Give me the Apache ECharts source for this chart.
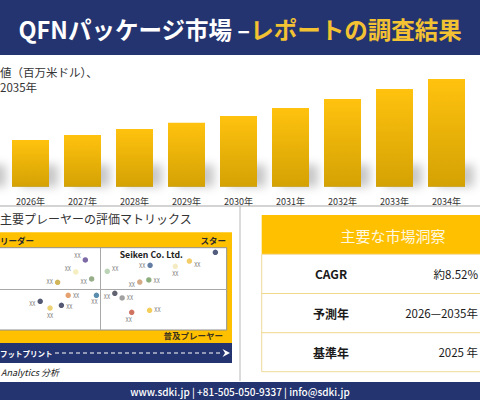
<!DOCTYPE html>
<html><head><meta charset="utf-8">
<script src="https://cdn.jsdelivr.net/npm/echarts@6/dist/echarts.min.js"></script>
<style>html,body{margin:0;padding:0;background:#fff;overflow:hidden}#c{width:480px;height:400px}</style>
</head><body><div id="c"></div>
<script>
// ---- data ----
const years = ['2025年','2026年','2027年','2028年','2029年','2030年','2031年','2032年','2033年','2034年','2035年'];
const marketValues = [42, 46.7, 51.7, 57.7, 64, 70.7, 78.7, 87.7, 97.7, 107.7, 120.7];

const playerNames = ['XX','XX','XX','XX','XX','XX','XX','XX','XX','','XX','XX','XX','XX','XX','XX','XX','XX','XX','XX'];
const playerX = [43.9, 40.1, 32.9, 46.4, 37.1, 48.3, 26.0, 29.9, 34.4, 95.5, 85.2, 79.6, 69.6, 52.6, 65.5, 69.1, 55.6, 58.5, 62.3, 69.4];
const playerY = [85.1, 70.5, 58.0, 62.0, 42.2, 42.2, 34.9, 26.7, 30.0, 94.4, 83.8, 77.4, 78.6, 71.3, 58.3, 60.8, 44.6, 38.9, 21.5, 23.9];

const insightLabels = ['CAGR', '予測年', '基準年'];
const insightValues = ['約8.52%', '2026—2035年', '2025 年'];

// ---- styling (not data) ----
const playerColors = ['#5b4390','#f3eab0','#c4a232','#7d9a6c','#e08a4c','#2f6f98','#28304f','#e9c851','#2c3050',
  '#27345c','#f0c142','#f2e6b4','#3c5b8c','#a9c9a2','#c99468','#6f9a5c','#3b3c4c','#8a8a8a','#c4513b','#f0c232'];
const labelSide = ['left','left','left','left','right','bottom','left','bottom','right','none',
  'right','bottom','left','right','left','right','left','right','bottom','right'];
const labelShift = [[0,-4],[0,-3],[0,0],[0,3],[0,1],[-2,-1],[0,3],[0,0],[0,2],[0,0],
  [0,4],[0,0],[0,1],[0,-2],[0,3],[0,1],[0,4],[0,0],[-3,0],[0,0]];

const NAVY = '#243470', GOLD = '#FFC000', FF = '"Noto Sans CJK JP", "Noto Sans", sans-serif';

function txt(text, x, y, size, color, opt) {
  opt = opt || {};
  const align = opt.align || 'left';
  return { type: 'text', z: opt.z || 5, style: {
    text, x, y, fill: color,
    fontSize: size, fontWeight: opt.weight || 'normal', fontStyle: opt.style || 'normal', fontFamily: FF,
    align, textAlign: align, verticalAlign: 'middle', textVerticalAlign: 'middle'
  }};
}
function rect(x, y, w, h, fill, stroke, z) {
  return { type: 'rect', z: z || 0, shape: { x, y, width: w, height: h },
    style: { fill, stroke: stroke || null, lineWidth: stroke ? 1 : 0 } };
}
function line(x1, y1, x2, y2, color, dash, w) {
  return { type: 'line', z: 1, shape: { x1, y1, x2, y2 },
    style: { stroke: color, lineWidth: w || 1, lineDash: dash || null } };
}

const graphics = [
  rect(0, 0, 480, 55, NAVY),
  { type: 'text', z: 5, style: {
      text: '{w|QFNパッケージ市場 –}{g|レポートの調査結果}', x: 240, y: 29,
      align: 'center', textAlign: 'center', verticalAlign: 'middle', textVerticalAlign: 'middle',
      rich: {
        w: { fill: '#ffffff', fontSize: 23.5, fontWeight: 'bold', fontFamily: FF },
        g: { fill: '#F3C233', fontSize: 23.5, fontWeight: 'bold', fontFamily: FF }
      } } },
  txt('値（百万米ドル）、', 0, 71.5, 11.5, '#333'),
  txt('2035年', 0, 87, 11.5, '#333'),
  line(0, 206, 480, 206, '#a8a8a8'),
  line(240, 206, 240, 381, '#b8b8b8'),
  // matrix
  txt('主要プレーヤーの評価マトリックス', 0, 218.5, 12, '#333'),
  rect(-31, 232.3, 263, 110.7, GOLD),
  rect(-25.3, 247.7, 252, 82.3, '#ffffff', '#8f8f8f', 1),
  txt('リーダー', 0, 240, 8.5, '#2a2a2a', { weight: 'bold' }),
  txt('スター', 226, 240, 8.5, '#2a2a2a', { weight: 'bold', align: 'right' }),
  txt('普及プレーヤー', 223, 334.5, 8.5, '#3a3320', { weight: 'bold', align: 'right' }),
  txt('Seiken Co. Ltd.', 151.3, 254.5, 8.7, '#222', { weight: 'bold', align: 'center' }),
  rect(-31, 343, 263, 20, NAVY),
  txt('フットプリント', 0, 353, 7.5, '#ffffff', { weight: 'bold' }),
  line(55, 353, 221, 353, '#ffffff', [4, 3], 1.2),
  { type: 'polygon', z: 5, shape: { points: [[222.5, 349], [230, 353], [222.5, 357], [225, 353]] }, style: { fill: '#ffffff' } },
  txt('Analytics 分析', 1, 372, 9, '#222', { style: 'italic' }),
  // insights table
  rect(261.7, 215, 262, 39.3, GOLD),
  rect(261.7, 254.3, 262, 117.4, '#ffffff', '#F0DA9A'),
  txt('主要な市場洞察', 393, 235, 15, '#FFF8E1', { align: 'center' }),
  // footer
  rect(0, 382, 480, 18, NAVY),
  txt('www.sdki.jp | +81-505-050-9337 | info@sdki.jp', 240, 391.5, 10, '#ffffff', { weight: 500, align: 'center' })
];
const rowTop = 254.3, rowH = 39.2;
insightLabels.forEach((l, i) => {
  const cy = rowTop + rowH * i + rowH / 2;
  graphics.push(txt(l, 331, cy, 12, '#1a1a1a', { weight: 'bold', align: 'center' }));
  graphics.push(txt(insightValues[i], 478, cy, 11.5, '#1a1a1a', { align: 'right' }));
  if (i < insightLabels.length - 1) graphics.push(line(261.7, rowTop + rowH * (i + 1), 480, rowTop + rowH * (i + 1), '#F0D88A'));
});

const chart = echarts.init(document.getElementById('c'), null, { renderer: 'svg', width: 480, height: 400 });
chart.setOption({
  animation: false,
  backgroundColor: '#ffffff',
  graphic: graphics,
  grid: [
    { left: -47.5, top: 60, width: 572, height: 126.7, outerBoundsMode: 'none', containLabel: false },
    { left: -25.3, top: 247.7, width: 252, height: 82.3, outerBoundsMode: 'none', containLabel: false }
  ],
  xAxis: [
    { type: 'category', gridIndex: 0, data: years,
      axisLine: { show: false }, axisTick: { show: false },
      axisLabel: { fontSize: 9, color: '#333', margin: 10, fontFamily: FF,
        interval: (i) => i >= 1 && i <= 9 } },
    { type: 'value', gridIndex: 1, min: 0, max: 100, show: false }
  ],
  yAxis: [
    { type: 'value', gridIndex: 0, min: 0, max: 126.7, show: false },
    { type: 'value', gridIndex: 1, min: 0, max: 100, show: false }
  ],
  series: [
    { type: 'bar', xAxisIndex: 0, yAxisIndex: 0, silent: true, z: 1,
      data: marketValues.map(v => Math.min(v, 22)), barWidth: 37, barGap: '-100%',
      itemStyle: { color: 'rgba(110,110,110,0.55)', shadowBlur: 10, shadowOffsetX: 9, shadowOffsetY: 0, shadowColor: 'rgba(0,0,0,0.4)' } },
    { type: 'bar', xAxisIndex: 0, yAxisIndex: 0, z: 2,
      data: marketValues, barWidth: 37, barGap: '-100%',
      itemStyle: { color: { type: 'linear', x: 0, y: 0, x2: 0, y2: 1,
        colorStops: [{ offset: 0, color: '#FFC20E' }, { offset: 1, color: '#D4A204' }] } } },
    { type: 'scatter', xAxisIndex: 1, yAxisIndex: 1, z: 3, symbolSize: 5.5,
      data: playerX.map((x, i) => ({
        value: [x, playerY[i]], name: playerNames[i],
        itemStyle: { color: playerColors[i] },
        label: { show: labelSide[i] !== 'none', position: labelSide[i] === 'none' ? 'right' : labelSide[i], offset: labelShift[i] }
      })),
      label: { formatter: p => p.name, fontSize: 5.5, color: '#555', distance: 2, fontFamily: FF },
      markLine: { silent: true, symbol: 'none', label: { show: false },
        lineStyle: { color: '#a9a9a9', width: 1, type: 'solid' },
        data: [{ xAxis: 50 }, { yAxis: 50 }] } }
  ]
});
</script></body></html>
